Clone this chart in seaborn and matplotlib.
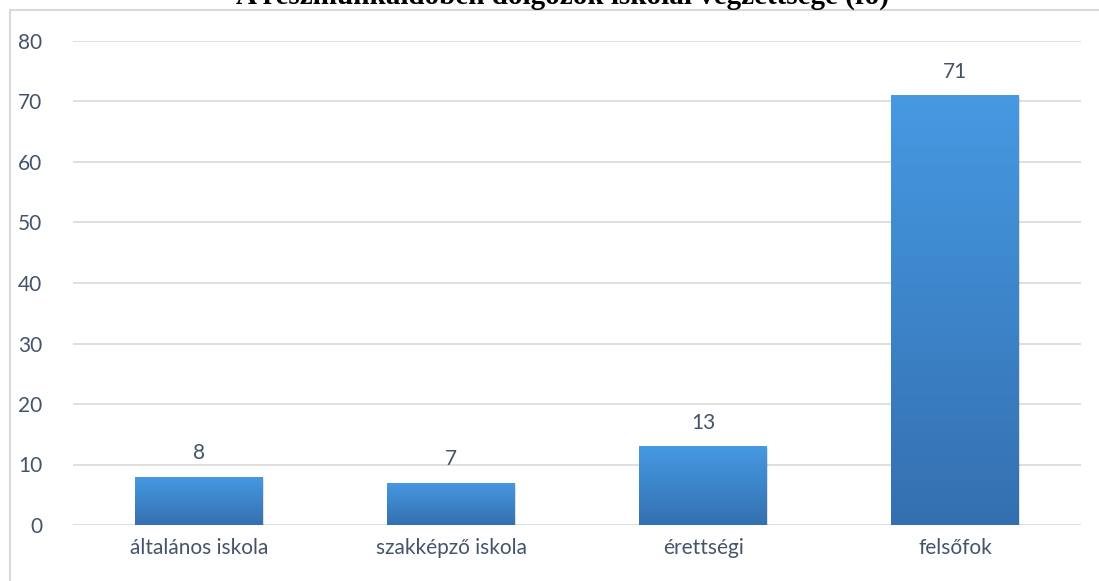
import matplotlib
matplotlib.use("Agg")
import matplotlib.pyplot as plt
import matplotlib.patches as patches
import matplotlib.colors as mcolors
import numpy as np
import pandas as pd
import seaborn as sns

categories = ["általános iskola", "szakképző iskola", "érettségi", "felsőfok"]
values = [8, 7, 13, 71]
title = "A részmunkaidőben dolgozók iskolai végzettsége (fő)"

df = pd.DataFrame({"cat": categories, "val": values})

sns.set_theme(style="white")
plt.rcParams['font.family'] = ['Lato', 'DejaVu Sans']
text_col = "#44546A"

fig = plt.figure(figsize=(10.99, 5.81), dpi=100)
ax = fig.add_axes([73 / 1099, 1 - 525 / 581, 1008 / 1099, 484 / 581])

sns.barplot(data=df, x="cat", y="val", color="#4699E2", width=0.505, ax=ax,
            saturation=1, zorder=3)
ax.set_ylim(0, 80)
ax.set_xlim(-0.5, 3.5)
ax.set_yticks(np.arange(0, 81, 10))
ax.yaxis.grid(True, color="#D9D9D9", linewidth=1.2, zorder=0)
ax.set_axisbelow(True)
for s in ax.spines.values():
    s.set_visible(False)
ax.set_xlabel("")
ax.set_ylabel("")
ax.tick_params(axis="both", length=0, labelsize=15, colors=text_col)
ax.tick_params(axis="y", pad=22)
ax.tick_params(axis="x", pad=9)

# gradient fill on bars
cmap = mcolors.LinearSegmentedColormap.from_list("g", ["#3470B0", "#4699E2"])
grad = np.linspace(0, 1, 256).reshape(-1, 1)
for bar in list(ax.patches):
    x0, y0 = bar.get_x(), bar.get_y()
    w, h = bar.get_width(), bar.get_height()
    bar.set_facecolor("none")
    bar.set_edgecolor("none")
    shadow = patches.Rectangle((x0 + 0.006, y0 - 0.25), w, h, facecolor="#000000",
                               alpha=0.12, zorder=2, edgecolor="none")
    ax.add_patch(shadow)
    im = ax.imshow(grad, extent=[x0, x0 + w, y0, y0 + h], origin="lower",
                   cmap=cmap, aspect="auto", zorder=3)
    im.set_clip_path(bar)
    ax.text(x0 + w / 2, h + 2.2, f"{h:g}", ha="center", va="bottom",
            fontsize=15, color=text_col, zorder=4)

# outer frame lines
fig.add_artist(plt.Line2D([10 / 1099, 10 / 1099], [0, 1 - 10 / 581],
                          color="#D9D9D9", linewidth=1.5))
fig.add_artist(plt.Line2D([10 / 1099, 1], [1 - 10 / 581, 1 - 10 / 581],
                          color="#D9D9D9", linewidth=1.5))

fig.text(0.512, 1 - 4 / 581, title, ha="center", va="baseline",
         fontsize=21, fontweight="bold", family="Liberation Serif", color="black")

fig.savefig("out.png", dpi=100)
